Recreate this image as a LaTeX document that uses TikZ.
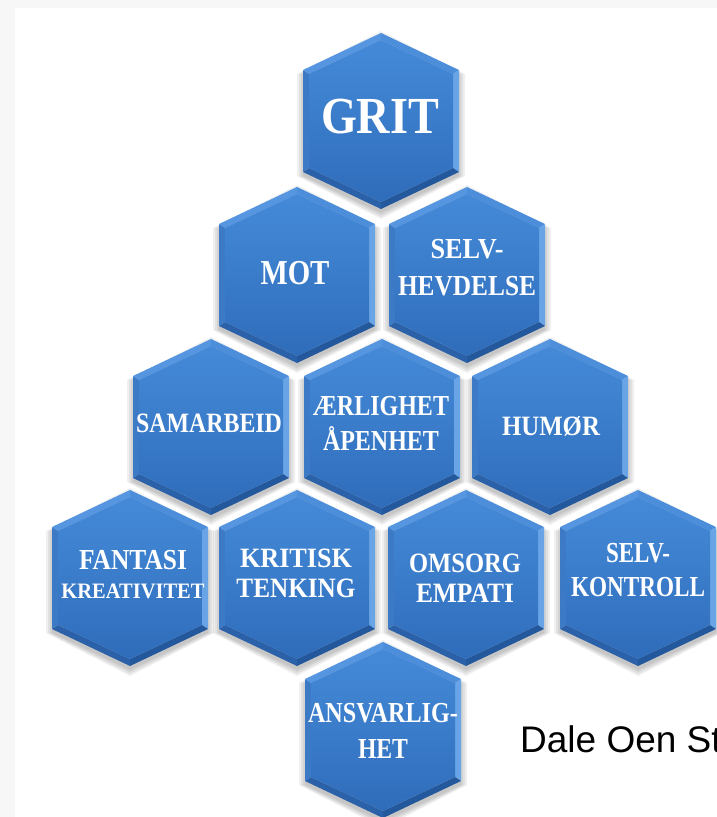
\documentclass[tikz,border=0pt]{standalone}
\usepackage{fontspec}
\setmainfont{Liberation Serif}
\newfontfamily\sansf{Liberation Sans}
\usepackage{graphicx}
\definecolor{bggray}{RGB}{247,247,247}
\definecolor{hexmid}{RGB}{58,124,202}
\definecolor{hextop}{RGB}{68,138,216}
\definecolor{hexbot}{RGB}{47,108,186}
\definecolor{facTR}{RGB}{76,142,218}
\definecolor{facR}{RGB}{104,164,230}
\definecolor{facBR}{RGB}{36,88,156}
\definecolor{facBL}{RGB}{42,97,168}
\definecolor{facL}{RGB}{60,122,198}
\definecolor{facTL}{RGB}{86,150,224}
\newcommand\hexpath[5]{({#1},{#2-(#4)}) -- ({#1+(#3)},{#2-(#5)}) -- ({#1+(#3)},{#2+(#5)}) -- ({#1},{#2+(#4)}) -- ({#1-(#3)},{#2+(#5)}) -- ({#1-(#3)},{#2-(#5)}) -- cycle}
\newcommand\hexshadow[2]{%
  \foreach \r in {0,2,4,6}{\fill[black,opacity=0.06] \hexpath{#1}{#2+4}{78+\r}{88+\r}{51};}}
\newcommand\hexbody[2]{%
  \fill[facTR] ({#1},{#2-88}) -- ({#1+78},{#2-51}) -- ({#1+72},{#2-47}) -- ({#1},{#2-81}) -- cycle;
  \fill[facR] ({#1+78},{#2-51}) -- ({#1+78},{#2+51}) -- ({#1+72},{#2+47}) -- ({#1+72},{#2-47}) -- cycle;
  \fill[facBR] ({#1+78},{#2+51}) -- ({#1},{#2+88}) -- ({#1},{#2+81}) -- ({#1+72},{#2+47}) -- cycle;
  \fill[facBL] ({#1},{#2+88}) -- ({#1-78},{#2+51}) -- ({#1-72},{#2+47}) -- ({#1},{#2+81}) -- cycle;
  \fill[facL] ({#1-78},{#2+51}) -- ({#1-78},{#2-51}) -- ({#1-72},{#2-47}) -- ({#1-72},{#2+47}) -- cycle;
  \fill[facTL] ({#1-78},{#2-51}) -- ({#1},{#2-88}) -- ({#1},{#2-81}) -- ({#1-72},{#2-47}) -- cycle;
  \shade[top color=hextop,bottom color=hexbot,middle color=hexmid] \hexpath{#1}{#2}{72}{81}{47};}
\newcommand\fitline[2]{\resizebox{#1pt}{\height}{#2}}
\tikzset{
  lbl/.style={text=white,inner sep=0pt,align=center,anchor=north},
}
\begin{document}
\begin{tikzpicture}[x=1pt,y=-1pt]
\useasboundingbox (0,0) rectangle (717,817);
\clip (0,0) rectangle (717,817);
\fill[bggray] (0,0) rectangle (717,817);
\fill[white] (15,8) rectangle (717,817);
\foreach \cx/\cy in {381/121,297/275,467/275,211/427,382/427,550/427,130/578,297/578,466/578,638/578,383/730}{\hexshadow{\cx}{\cy}}
\foreach \cx/\cy in {381/121,297/275,467/275,211/427,382/427,550/427,130/578,297/578,466/578,638/578,383/730}{\hexbody{\cx}{\cy}}
% labels
\node[lbl,font=\bfseries\fontsize{52}{60}\selectfont] (grit) at (380,99) {\fitline{118}{GRIT}};
\node[lbl,font=\bfseries\fontsize{35}{40}\selectfont] (mot) at (295,261) {\fitline{69}{MOT}};
\node[lbl,font=\bfseries\fontsize{29}{37}\selectfont] (selvh) at (467,239) {\fitline{73}{SELV-}\\\fitline{138}{HEVDELSE}};
\node[lbl,font=\bfseries\fontsize{28}{30}\selectfont] (sam) at (209,414) {\fitline{146}{SAMARBEID}};
\node[lbl,font=\bfseries\fontsize{29}{35}\selectfont] (aer) at (381,396) {\fitline{136}{ÆRLIGHET}\\\fitline{116}{ÅPENHET}};
\node[lbl,font=\bfseries\fontsize{28}{30}\selectfont] (hum) at (551,416) {\fitline{98}{HUMØR}};
\node[lbl,font=\bfseries\fontsize{29}{29}\selectfont] (fan) at (133,550) {\fitline{108}{FANTASI}\\\fitline{143}{\fontsize{22}{24}\selectfont KREATIVITET}};
\node[lbl,font=\bfseries\fontsize{28}{30}\selectfont] (kri) at (296,549) {\fitline{112}{KRITISK}\\\fitline{119}{TENKING}};
\node[lbl,font=\bfseries\fontsize{28}{30}\selectfont] (oms) at (465,554) {\fitline{112}{OMSORG}\\\fitline{98}{EMPATI}};
\node[lbl,font=\bfseries\fontsize{29}{34}\selectfont] (selvk) at (638,543) {\fitline{64}{SELV-}\\\fitline{134}{KONTROLL}};
\node[lbl,font=\bfseries\fontsize{29}{36}\selectfont] (ans) at (383,703) {\fitline{150}{ANSVARLIG-}\\\fitline{50}{HET}};
\node[anchor=base west,inner sep=0pt,font=\sansf\fontsize{37}{42}\selectfont] (dale) at (520,752) {Dale Oen St};
\end{tikzpicture}
\end{document}
